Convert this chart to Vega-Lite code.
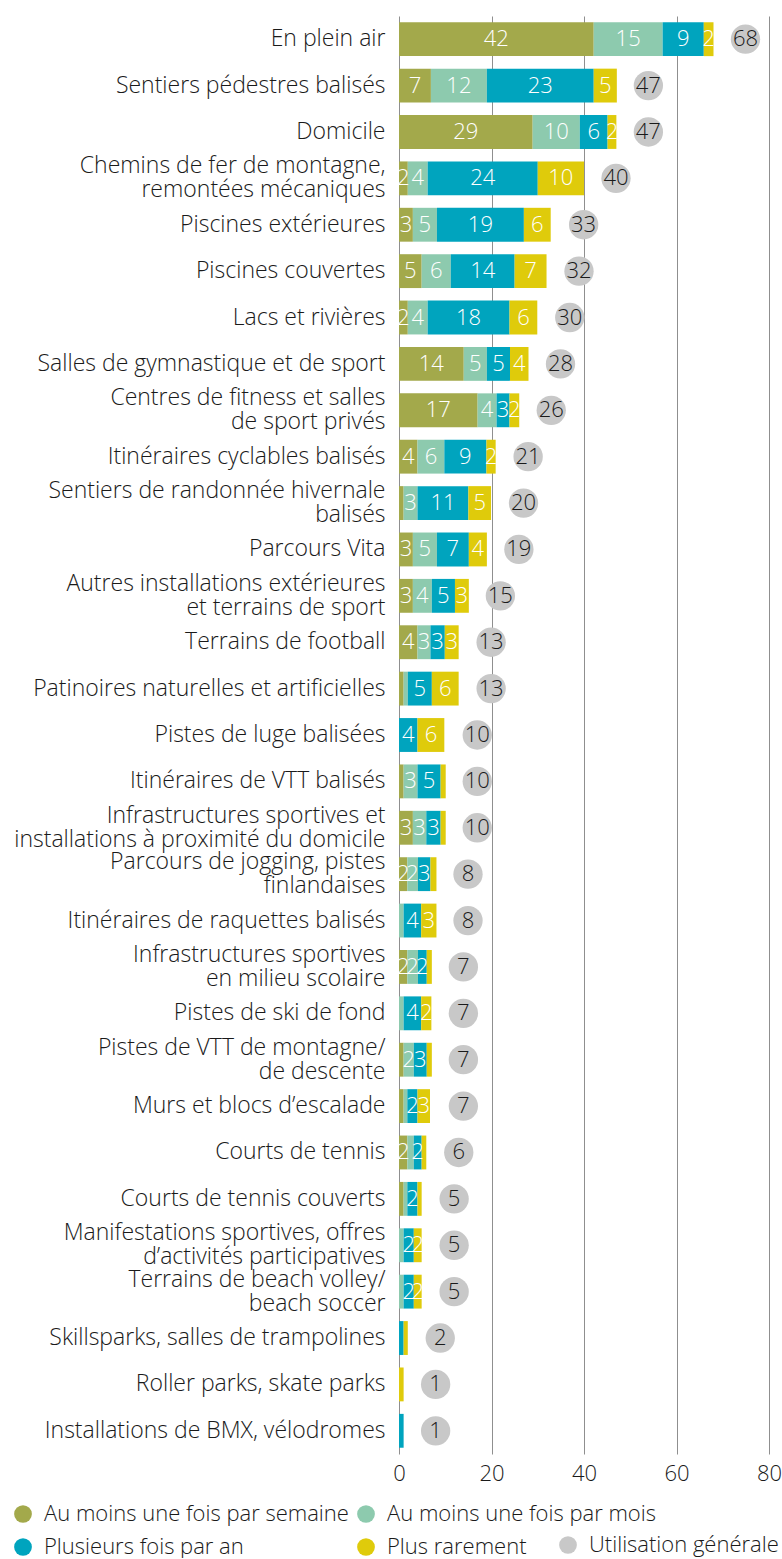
{
  "$schema": "https://vega.github.io/schema/vega-lite/v6.json",
  "width": 370,
  "height": 1438,
  "padding": {"left": 5, "top": 16, "right": 0, "bottom": 0},
  "autosize": {"type": "pad"},
  "background": "white",
  "config": {
    "view": {"stroke": null},
    "font": "Open Sans",
    "legend": {"labelFont": "Open Sans", "labelFontSize": 22, "labelFontWeight": 300, "labelColor": "#1a1a1a", "labelLimit": 400, "symbolSize": 314, "symbolType": "circle", "symbolStrokeWidth": 0, "labelOffset": 10, "padding": 0, "titlePadding": 0}
  },
  "data": {
    "values": [
      {"cat": "En plein air", "Au moins une fois par semaine": 42.1, "Au moins une fois par mois": 14.9, "Plusieurs fois par an": 8.9, "Plus rarement": 2.1, "total": 68},
      {"cat": "Sentiers pédestres balisés", "Au moins une fois par semaine": 6.9, "Au moins une fois par mois": 12.1, "Plusieurs fois par an": 23.1, "Plus rarement": 5.0, "total": 47},
      {"cat": "Domicile", "Au moins une fois par semaine": 28.9, "Au moins une fois par mois": 10.2, "Plusieurs fois par an": 6.0, "Plus rarement": 1.9, "total": 47},
      {"cat": "Chemins de fer de montagne,|remontées mécaniques", "Au moins une fois par semaine": 1.9, "Au moins une fois par mois": 4.3, "Plusieurs fois par an": 23.8, "Plus rarement": 10.0, "total": 40},
      {"cat": "Piscines extérieures", "Au moins une fois par semaine": 3.0, "Au moins une fois par mois": 5.2, "Plusieurs fois par an": 18.8, "Plus rarement": 5.8, "total": 33},
      {"cat": "Piscines couvertes", "Au moins une fois par semaine": 4.9, "Au moins une fois par mois": 6.3, "Plusieurs fois par an": 13.8, "Plus rarement": 6.9, "total": 32},
      {"cat": "Lacs et rivières", "Au moins une fois par semaine": 1.9, "Au moins une fois par mois": 4.3, "Plusieurs fois par an": 17.7, "Plus rarement": 6.0, "total": 30},
      {"cat": "Salles de gymnastique et de sport", "Au moins une fois par semaine": 14.0, "Au moins une fois par mois": 5.0, "Plusieurs fois par an": 5.0, "Plus rarement": 4.0, "total": 28},
      {"cat": "Centres de fitness et salles|de sport privés", "Au moins une fois par semaine": 17.0, "Au moins une fois par mois": 4.1, "Plusieurs fois par an": 2.8, "Plus rarement": 2.1, "total": 26},
      {"cat": "Itinéraires cyclables balisés", "Au moins une fois par semaine": 4.0, "Au moins une fois par mois": 5.8, "Plusieurs fois par an": 9.1, "Plus rarement": 2.0, "total": 21},
      {"cat": "Sentiers de randonnée hivernale|balisés", "Au moins une fois par semaine": 1.0, "Au moins une fois par mois": 3.0, "Plusieurs fois par an": 11.0, "Plus rarement": 4.9, "total": 20},
      {"cat": "Parcours Vita", "Au moins une fois par semaine": 3.0, "Au moins une fois par mois": 5.2, "Plusieurs fois par an": 6.9, "Plus rarement": 3.9, "total": 19},
      {"cat": "Autres installations extérieures|et terrains de sport", "Au moins une fois par semaine": 3.0, "Au moins une fois par mois": 4.1, "Plusieurs fois par an": 5.0, "Plus rarement": 3.0, "total": 15},
      {"cat": "Terrains de football", "Au moins une fois par semaine": 4.0, "Au moins une fois par mois": 2.8, "Plusieurs fois par an": 3.1, "Plus rarement": 3.0, "total": 13},
      {"cat": "Patinoires naturelles et artificielles", "Au moins une fois par semaine": 1.0, "Au moins une fois par mois": 0.9, "Plusieurs fois par an": 5.2, "Plus rarement": 5.8, "total": 13},
      {"cat": "Pistes de luge balisées", "Au moins une fois par semaine": 0, "Au moins une fois par mois": 0, "Plusieurs fois par an": 4.0, "Plus rarement": 5.8, "total": 10},
      {"cat": "Itinéraires de VTT balisés", "Au moins une fois par semaine": 1.0, "Au moins une fois par mois": 3.0, "Plusieurs fois par an": 5.0, "Plus rarement": 1.1, "total": 10},
      {"cat": "Infrastructures sportives et|installations à proximité du domicile", "Au moins une fois par semaine": 3.0, "Au moins une fois par mois": 2.9, "Plusieurs fois par an": 3.1, "Plus rarement": 1.1, "total": 10},
      {"cat": "Parcours de jogging, pistes|finlandaises", "Au moins une fois par semaine": 1.8, "Au moins une fois par mois": 2.3, "Plusieurs fois par an": 2.7, "Plus rarement": 1.3, "total": 8},
      {"cat": "Itinéraires de raquettes balisés", "Au moins une fois par semaine": 0, "Au moins une fois par mois": 1.0, "Plusieurs fois par an": 3.8, "Plus rarement": 3.3, "total": 8},
      {"cat": "Infrastructures sportives|en milieu scolaire", "Au moins une fois par semaine": 1.8, "Au moins une fois par mois": 2.3, "Plusieurs fois par an": 1.9, "Plus rarement": 1.1, "total": 7},
      {"cat": "Pistes de ski de fond", "Au moins une fois par semaine": 0, "Au moins une fois par mois": 1.0, "Plusieurs fois par an": 3.8, "Plus rarement": 2.2, "total": 7},
      {"cat": "Pistes de VTT de montagne/|de descente", "Au moins une fois par semaine": 1.0, "Au moins une fois par mois": 2.2, "Plusieurs fois par an": 2.8, "Plus rarement": 1.1, "total": 7},
      {"cat": "Murs et blocs d’escalade", "Au moins une fois par semaine": 1.0, "Au moins une fois par mois": 0.8, "Plusieurs fois par an": 2.2, "Plus rarement": 2.7, "total": 7},
      {"cat": "Courts de tennis", "Au moins une fois par semaine": 1.8, "Au moins une fois par mois": 1.4, "Plusieurs fois par an": 1.7, "Plus rarement": 1.0, "total": 6},
      {"cat": "Courts de tennis couverts", "Au moins une fois par semaine": 1.0, "Au moins une fois par mois": 0.8, "Plusieurs fois par an": 2.2, "Plus rarement": 0.9, "total": 5},
      {"cat": "Manifestations sportives, offres|d’activités participatives", "Au moins une fois par semaine": 0, "Au moins une fois par mois": 1.0, "Plusieurs fois par an": 2.2, "Plus rarement": 1.7, "total": 5},
      {"cat": "Terrains de beach volley/|beach soccer", "Au moins une fois par semaine": 0, "Au moins une fois par mois": 1.0, "Plusieurs fois par an": 2.2, "Plus rarement": 1.7, "total": 5},
      {"cat": "Skillsparks, salles de trampolines", "Au moins une fois par semaine": 0, "Au moins une fois par mois": 0, "Plusieurs fois par an": 1.0, "Plus rarement": 0.9, "total": 2},
      {"cat": "Roller parks, skate parks", "Au moins une fois par semaine": 0, "Au moins une fois par mois": 0, "Plusieurs fois par an": 0, "Plus rarement": 1.0, "total": 1},
      {"cat": "Installations de BMX, vélodromes", "Au moins une fois par semaine": 0, "Au moins une fois par mois": 0, "Plusieurs fois par an": 1.0, "Plus rarement": 0, "total": 1}
    ]
  },
  "encoding": {
    "y": {
      "field": "cat", "type": "nominal", "sort": null,
      "scale": {"paddingInner": 0.27, "paddingOuter": 0.135},
      "axis": {
        "title": null, "domain": false, "ticks": false, "grid": false,
        "labelPadding": 14, "labelFont": "Open Sans", "labelFontSize": 23, "labelFontWeight": 300,
        "labelColor": "#1a1a1a", "labelLimit": 420, "labelLineHeight": 24,
        "labelOffset": {"condition": {"test": "indexof(datum.value, '|') >= 0", "value": -12}, "value": 0},
        "minExtent": 394, "maxExtent": 394,
        "labelExpr": "split(datum.label, '|')"
      }
    }
  },
  "layer": [
    {
      "transform": [
        {"fold": ["Au moins une fois par semaine", "Au moins une fois par mois", "Plusieurs fois par an", "Plus rarement"], "as": ["freq", "value"]},
        {"calculate": "indexof(['Au moins une fois par semaine','Au moins une fois par mois','Plusieurs fois par an','Plus rarement'], datum.freq)", "as": "order"},
        {"stack": "value", "groupby": ["cat"], "sort": [{"field": "order", "order": "ascending"}], "as": ["x0", "x1"]},
        {"calculate": "(datum.x0 + datum.x1) / 2", "as": "mid"}
      ],
      "layer": [
        {
          "mark": {"type": "bar"},
          "encoding": {
            "x": {
              "field": "x0", "type": "quantitative",
              "scale": {"domain": [0, 80], "nice": false},
              "axis": {
                "title": null, "values": [0, 20, 40, 60, 80], "grid": true, "gridColor": "#8f8f8f", "gridWidth": 1,
                "domain": false, "ticks": false, "labelFlush": false, "labelFont": "Open Sans", "labelFontSize": 22, "labelFontWeight": 300,
                "labelColor": "#1a1a1a", "labelPadding": 9
              }
            },
            "x2": {"field": "x1"},
            "color": {
              "field": "freq", "type": "nominal",
              "scale": {
                "domain": ["Au moins une fois par semaine", "Au moins une fois par mois", "Plusieurs fois par an", "Plus rarement"],
                "range": ["#a3a94b", "#8dcaae", "#00a4be", "#dfcb0b"]
              },
              "legend": {
                "title": null, "orient": "none", "legendX": -387, "legendY": 1487,
                "direction": "horizontal", "columns": 2, "columnPadding": 6, "rowPadding": 11
              }
            }
          }
        },
        {
          "transform": [{"filter": "datum.value >= 1.5"}],
          "mark": {"type": "text", "color": "white", "font": "Open Sans", "fontSize": 22, "fontWeight": 300, "align": "center", "baseline": "middle"},
          "encoding": {
            "x": {"field": "mid", "type": "quantitative"},
            "text": {"field": "value", "type": "quantitative", "format": ".0f"}
          }
        }
      ]
    },
    {
      "mark": {"type": "point", "filled": true, "shape": "circle", "size": 860, "xOffset": 32, "opacity": 1},
      "encoding": {
        "x": {"field": "total", "type": "quantitative"},
        "fill": {
          "datum": "Utilisation générale",
          "scale": {"range": ["#c8c8c8"]},
          "legend": {"title": null, "orient": "none", "legendX": 158, "legendY": 1518}
        }
      }
    },
    {
      "mark": {"type": "text", "xOffset": 32, "color": "#1a1a1a", "font": "Open Sans", "fontSize": 22, "fontWeight": 300, "align": "center", "baseline": "middle"},
      "encoding": {
        "x": {"field": "total", "type": "quantitative"},
        "text": {"field": "total", "type": "quantitative"}
      }
    }
  ]
}
